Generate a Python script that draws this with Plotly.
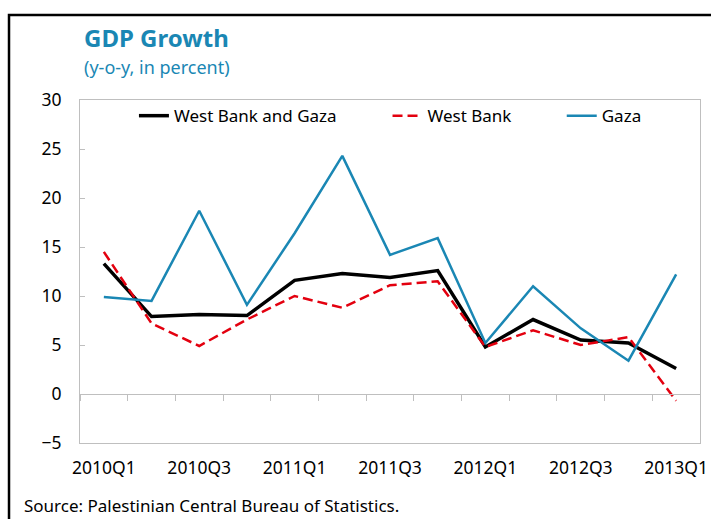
import plotly.graph_objects as go

quarters = ["2010Q1", "2010Q2", "2010Q3", "2010Q4", "2011Q1", "2011Q2", "2011Q3",
            "2011Q4", "2012Q1", "2012Q2", "2012Q3", "2012Q4", "2013Q1"]
wbg = [13.3, 7.9, 8.1, 8.0, 11.6, 12.3, 11.9, 12.6, 4.8, 7.6, 5.5, 5.2, 2.6]
west_bank = [14.5, 7.2, 4.9, 7.6, 10.0, 8.8, 11.1, 11.5, 4.8, 6.5, 5.0, 5.8, -0.7]
gaza = [9.9, 9.5, 18.7, 9.1, 16.4, 24.3, 14.2, 15.9, 5.2, 11.0, 6.7, 3.4, 12.2]

label_idx = list(range(0, len(quarters), 2))
label_text = [quarters[i] for i in label_idx]
boundaries = [i - 0.5 for i in range(len(quarters) + 1)]

FONT = "Noto Sans"
BLUE = "#1a87b4"
GRAY = "#bfbfbf"

xs = list(range(len(quarters)))

fig = go.Figure()
fig.add_trace(go.Scatter(x=xs, y=wbg, mode="lines", name="West Bank and Gaza",
                         line=dict(color="black", width=3.5), legend="legend"))
fig.add_trace(go.Scatter(x=xs, y=west_bank, mode="lines", name="West Bank",
                         line=dict(color="#e3000f", width=2.5, dash="10px,5px"), legend="legend2"))
fig.add_trace(go.Scatter(x=xs, y=gaza, mode="lines", name="Gaza",
                         line=dict(color=BLUE, width=2.5), legend="legend3"))
# helper trace so the zero-line axis with tick marks is drawn
fig.add_trace(go.Scatter(x=[xs[0]], y=[0], xaxis="x2", mode="markers",
                         marker=dict(opacity=0), showlegend=False, hoverinfo="skip"))

legend_common = dict(orientation="h", yanchor="middle", y=0.953, xanchor="left",
                     bgcolor="rgba(0,0,0,0)", font=dict(family=FONT, size=17, color="black"))

fig.update_layout(
    width=711, height=519,
    margin=dict(l=80, r=11, t=100, b=76, autoexpand=False),
    paper_bgcolor="white", plot_bgcolor="white",
    font=dict(family=FONT, size=17, color="black"),
    xaxis=dict(range=[-0.5, len(quarters) - 0.5], tickvals=label_idx, ticktext=label_text,
               ticks="", showgrid=False, zeroline=False, showline=True, linecolor=GRAY,
               linewidth=1, mirror=True, ticklabelstandoff=9, ticklabeloverflow="allow",
               automargin=False,
               tickfont=dict(family=FONT, size=17.5, color="black")),
    xaxis2=dict(overlaying="x", anchor="free", position=5 / 35, matches="x",
                range=[-0.5, len(quarters) - 0.5], tickvals=boundaries, showticklabels=False,
                ticks="outside", ticklen=6, tickcolor=GRAY, showline=True, linecolor=GRAY,
                linewidth=1, showgrid=False, zeroline=False, automargin=False),
    yaxis=dict(range=[-5, 30], dtick=5, ticks="inside", ticklen=5, tickcolor=GRAY,
               showgrid=False, zeroline=False, showline=True, linecolor=GRAY, linewidth=1,
               mirror=True, ticklabelstandoff=14, automargin=False,
               tickfont=dict(family=FONT, size=17.5, color="black")),
    showlegend=True,
    legend=dict(x=0.087, **legend_common),
    legend2=dict(x=0.496, **legend_common),
    legend3=dict(x=0.777, **legend_common),
    annotations=[
        dict(text="<b>GDP Growth</b>", x=0.004, y=1.181, xref="paper", yref="paper",
             xanchor="left", yanchor="middle", showarrow=False,
             font=dict(family=FONT, size=24, color=BLUE)),
        dict(text="(y-o-y, in percent)", x=0.004, y=1.096, xref="paper", yref="paper",
             xanchor="left", yanchor="middle", showarrow=False,
             font=dict(family=FONT, size=18, color=BLUE)),
        dict(text="Source: Palestinian Central Bureau of Statistics.", x=-0.093, y=-0.181,
             xref="paper", yref="paper", xanchor="left", yanchor="middle", showarrow=False,
             font=dict(family=FONT, size=17, color="black")),
    ],
    shapes=[
        dict(type="rect", xref="paper", yref="paper", x0=-0.1145, x1=1.05, y0=-0.3, y1=1.2478,
             line=dict(color="black", width=2.5), fillcolor="rgba(0,0,0,0)", layer="below"),
    ],
)

fig.write_html("out.html", config={"displayModeBar": False},
               post_script="document.body.style.margin='0';document.body.style.overflow='hidden';")
